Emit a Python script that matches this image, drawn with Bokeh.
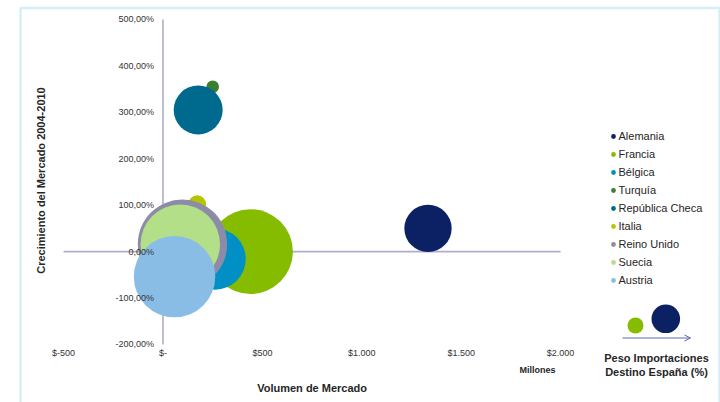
import math

from bokeh.embed import file_html
from bokeh.models import (Arrow, BoxAnnotation, ColumnDataSource, FixedTicker,
                          Label, Legend, LegendItem, LinearAxis, OpenHead, Range1d)
from bokeh.plotting import figure
from bokeh.resources import INLINE

# --- data -------------------------------------------------------------------
countries = ["Alemania", "Francia", "Bélgica", "Turquía", "República Checa",
             "Italia", "Reino Unido", "Suecia", "Austria"]
volumen = [1333, 440, 262, 250, 177, 172, 98, 87, 58]            # millones $
crecimiento = [50, 0, -16, 355, 305, 102, 16, 16, -54]           # % 2004-2010
peso_espana = [2.8, 9.0, 4.7, 0.2, 3.0, 0.4, 10.0, 7.9, 8.3]     # % importaciones
colors = ["#0b2163", "#86bc00", "#0090c6", "#3a7e2e", "#006a8e",
          "#b7c400", "#8c8ca8", "#b3df88", "#89bde6"]

x_ticks = [-500, 0, 500, 1000, 1500, 2000]
x_labels = ["$-500", "$-", "$500", "$1.000", "$1.500", "$2.000"]
y_ticks = [-200, -100, 0, 100, 200, 300, 400, 500]
y_labels = ["-200,00%", "-100,00%", "0,00%", "100,00%", "200,00%",
            "300,00%", "400,00%", "500,00%"]

# --- page geometry (pixels) --------------------------------------------------
W, H = 720, 402
X0_PX, XS = 162.5, 99.4 / 500      # pixel of x=0, pixels per unit
Y0_PX, YS = 251.1, 325 / 700       # pixel of y=0, pixels per percent


def dx(px):
    return (px - X0_PX) / XS


def dy(py):
    return (Y0_PX - py) / YS


FONT = "Liberation Sans"
TEXT = "#262626"
AXIS_LINE = "#adadcc"
BUBBLE_SCALE = 28.27                # diameter in px per sqrt(%)

p = figure(width=W, height=H, output_backend="svg", toolbar_location=None,
           x_axis_type=None, y_axis_type=None,
           x_range=Range1d(dx(0), dx(W)), y_range=Range1d(dy(H), dy(0)),
           min_border=0, min_border_left=0, min_border_right=0,
           min_border_top=0, min_border_bottom=0)
p.outline_line_color = None
p.background_fill_color = "white"
p.border_fill_color = "white"

# outer frame of the chart area
p.add_layout(BoxAnnotation(left=dx(20), right=dx(719), top=dy(7.5), bottom=dy(420),
                           fill_alpha=0, line_color="#74c6e6", line_width=2.5,
                           level="underlay"))

# axis lines crossing at the origin (drawn below the bubbles)
p.segment(x0=[0, x_ticks[0]], y0=[y_ticks[0], 0], x1=[0, x_ticks[-1]],
          y1=[y_ticks[-1], 0], line_color=AXIS_LINE, line_width=1.6)

# bubbles
src = ColumnDataSource(dict(
    x=volumen, y=crecimiento, name=countries, color=colors,
    size=[BUBBLE_SCALE * math.sqrt(v) for v in peso_espana]))
r = p.scatter("x", "y", size="size", fill_color="color", line_color=None, source=src)

# axes: tick labels only
yaxis = LinearAxis(fixed_location=0, ticker=FixedTicker(ticks=y_ticks),
                   major_label_overrides=dict(zip(y_ticks, y_labels)))
xaxis = LinearAxis(fixed_location=y_ticks[0], ticker=FixedTicker(ticks=x_ticks),
                   major_label_overrides=dict(zip(x_ticks, x_labels)))
for ax, standoff in ((yaxis, 9), (xaxis, 4)):
    ax.axis_line_color = None
    ax.major_tick_line_color = None
    ax.minor_tick_line_color = None
    ax.major_tick_out = 0
    ax.major_tick_in = 0
    ax.major_label_standoff = standoff
    ax.major_label_text_font = FONT
    ax.major_label_text_font_size = "9px"
    ax.major_label_text_color = "#333333"
p.add_layout(yaxis, "left")
p.add_layout(xaxis, "below")

# titles
def label(x, y, text, size, bold=True, angle=0.0):
    p.add_layout(Label(x=x, y=y, text=text, text_font=FONT, text_font_size=size,
                       text_font_style="bold" if bold else "normal",
                       text_color=TEXT, text_align="center",
                       text_baseline="middle", angle=angle))


label(dx(40), dy(180), "Crecimiento del Mercado 2004-2010", "11px", angle=math.pi / 2)
label((x_ticks[0] + x_ticks[-1]) / 2, dy(387), "Volumen de Mercado", "11px")
label(dx(537), dy(369), "Millones", "9px")

# legend
legend = Legend(items=[LegendItem(label=c, renderers=[r], index=i)
                       for i, c in enumerate(countries)],
                location=(606.5, H - 127 - 18 * len(countries)),
                orientation="vertical", glyph_width=12, glyph_height=18,
                label_height=18, label_standoff=0, spacing=0, padding=0,
                margin=0, border_line_color=None, background_fill_alpha=0,
                label_text_font=FONT, label_text_font_size="11px",
                label_text_color=TEXT)
p.add_layout(legend)

# bubble-size key
p.scatter([dx(635), dx(665.3)], [dy(325), dy(318.3)], size=[16, 28.6],
          fill_color=[colors[1], colors[0]], line_color=None)
p.add_layout(Arrow(x_start=dx(622), y_start=dy(337.5), x_end=dx(690), y_end=dy(337.5),
                   line_color="#5b6cae", line_width=1,
                   end=OpenHead(size=6, line_color="#5b6cae", line_width=1)))
label(dx(656), dy(357), "Peso Importaciones", "11px")
label(dx(656), dy(371), "Destino España (%)", "11px")

open("out.html", "w").write(file_html(p, INLINE))
